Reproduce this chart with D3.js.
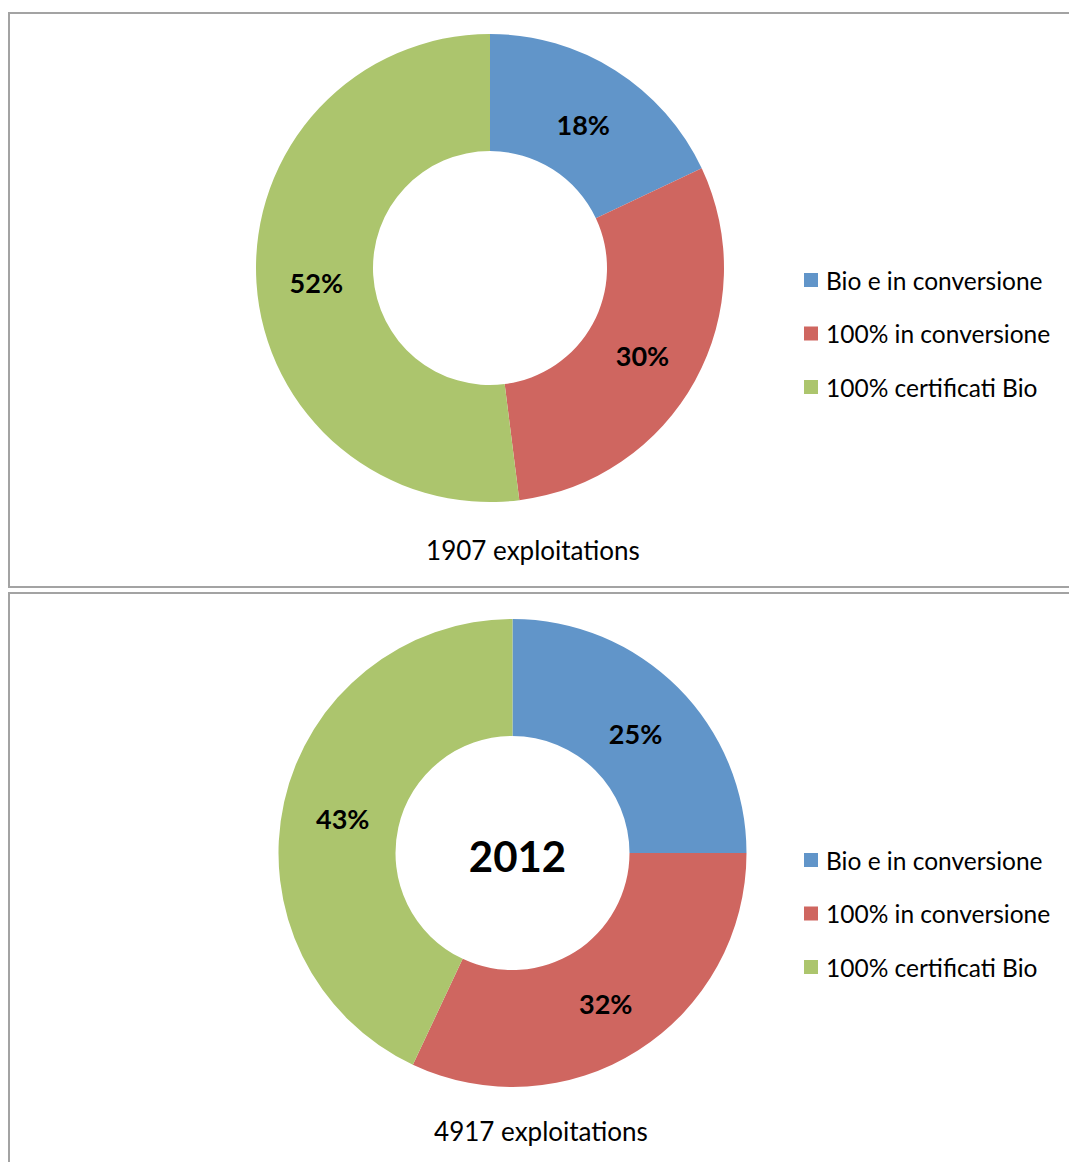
<!DOCTYPE html>
<html>
  <head>
    <script src="https://cdn.jsdelivr.net/npm/d3@7/dist/d3.min.js" charset="utf-8"></script>
    <style type="text/css">
      body {
        margin: 0;
        background: #fff;
        font-family: Lato, "Open Sans", sans-serif;
      }
    </style>
  </head>
  <body>
    <script type="text/javascript">
      // categories and colours
      var categories = ["Bio e in conversione", "100% in conversione", "100% certificati Bio"];
      var colors = ["#6195c9", "#cf6660", "#acc56d"];

      // series values (percent)
      var values1907 = [18, 30, 52];
      var values2012 = [25, 32, 43];

      var captions = ["1907 exploitations", "4917 exploitations"];
      var centerLabels = ["", "2012"];

      var w = 1069, h = 1162;

      var svg = d3.select("body").append("svg")
          .attr("width", w)
          .attr("height", h);

      var panels = [
        { top: 12, bottom: 588, cx: 490, cy: 268, legendY: 281, captionX: 533, captionY: 560, values: values1907 },
        { top: 592, bottom: 1175, cx: 512.5, cy: 853, legendY: 861, captionX: 541, captionY: 1141, values: values2012 }
      ];

      panels.forEach(function(p, pi) {
        var g = svg.append("g");

        // gray frame round each chart
        g.append("rect")
          .attr("x", 9)
          .attr("y", p.top + 1)
          .attr("width", w + 10)
          .attr("height", p.bottom - p.top - 2)
          .attr("fill", "none")
          .attr("stroke", "#a3a3a3")
          .attr("stroke-width", 2);

        var pie = d3.pie().sort(null).value(function(d) { return d; });
        var arc = d3.arc().innerRadius(117).outerRadius(234);
        var labelArc = d3.arc().innerRadius(174).outerRadius(174);

        var arcs = pie(p.values);

        var chart = g.append("g")
          .attr("transform", "translate(" + [p.cx, p.cy] + ")");

        chart.selectAll("path")
          .data(arcs)
          .enter()
          .append("path")
          .attr("d", arc)
          .attr("fill", function(d, i) { return colors[i]; });

        chart.selectAll("text.pct")
          .data(arcs)
          .enter()
          .append("text")
          .attr("class", "pct")
          .attr("transform", function(d) { return "translate(" + labelArc.centroid(d) + ")"; })
          .attr("text-anchor", "middle")
          .attr("dy", "0.52em")
          .attr("font-size", 27)
          .attr("font-weight", "bold")
          .attr("fill", "#000")
          .text(function(d) { return d.data + "%"; });

        if (centerLabels[pi]) {
          chart.append("text")
            .attr("x", 5)
            .attr("y", 4)
            .attr("text-anchor", "middle")
            .attr("dy", "0.35em")
            .attr("font-size", 42)
            .attr("font-weight", "bold")
            .text(centerLabels[pi]);
        }

        // legend
        var legend = g.selectAll("g.legend")
          .data(categories)
          .enter()
          .append("g")
          .attr("class", "legend")
          .attr("transform", function(d, i) { return "translate(" + [804, p.legendY + i * 53.5] + ")"; });

        legend.append("rect")
          .attr("x", 0)
          .attr("y", -8)
          .attr("width", 14)
          .attr("height", 14)
          .attr("fill", function(d, i) { return colors[i]; });

        legend.append("text")
          .attr("x", 22)
          .attr("y", 0)
          .attr("dy", "0.35em")
          .attr("font-size", 24.5)
          .attr("fill", "#000")
          .text(function(d) { return d; });

        g.append("text")
          .attr("x", p.captionX)
          .attr("y", p.captionY)
          .attr("text-anchor", "middle")
          .attr("font-size", 26)
          .text(captions[pi]);
      });
    </script>
  </body>
</html>
